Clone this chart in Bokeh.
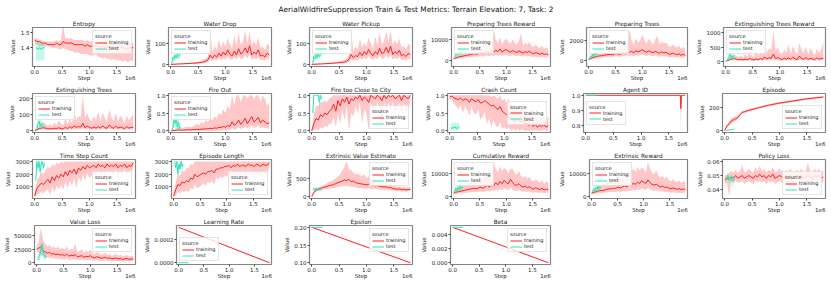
from bokeh.plotting import figure
from bokeh.models import Legend, LegendItem, FixedTicker, Range1d, PrintfTickFormatter, LinearAxis
from bokeh.layouts import column, row
from bokeh.embed import file_html
from bokeh.resources import INLINE
from bokeh.core.properties import value

SUPTITLE = "AerialWildfireSuppression Train & Test Metrics: Terrain Elevation: 7, Task: 2"

# ---------------- data (x in units of 1e6 steps) ----------------
STEPS = [0.0, 0.04, 0.08, 0.12, 0.16, 0.2, 0.24, 0.28, 0.32, 0.36,
         0.4, 0.44, 0.48, 0.52, 0.56, 0.6, 0.64, 0.68, 0.72, 0.76,
         0.8, 0.84, 0.88, 0.92, 0.96, 1.0, 1.04, 1.08, 1.12, 1.16,
         1.2, 1.24, 1.28, 1.32, 1.36, 1.4, 1.44, 1.48, 1.52, 1.56,
         1.6, 1.64, 1.68, 1.72, 1.76, 1.8]
TEST_STEPS = [0.02, 0.04, 0.06, 0.08, 0.1, 0.12, 0.14, 0.16, 0.18]
LINE_STEPS = [0.0, 1.8]
SHORT_TEST_STEPS = [0.0, 0.2]
AGENT_STEPS = [0.0, 1.71, 1.72, 1.73, 1.8]

ENTROPY = [1.45, 1.44, 1.44, 1.43, 1.43, 1.43, 1.42, 1.42, 1.42, 1.42,
           1.43, 1.42, 1.42, 1.44, 1.43, 1.43, 1.43, 1.43, 1.42, 1.42,
           1.42, 1.42, 1.42, 1.41, 1.42, 1.41, 1.41, 1.41, 1.41, 1.41,
           1.40, 1.41, 1.40, 1.40, 1.41, 1.40, 1.40, 1.40, 1.40, 1.40,
           1.40, 1.40, 1.39, 1.40, 1.40, 1.40]
ENTROPY_LO = [1.43, 1.42, 1.41, 1.41, 1.41, 1.41, 1.41, 1.41, 1.40, 1.40,
              1.40, 1.39, 1.39, 1.40, 1.39, 1.39, 1.38, 1.38, 1.37, 1.37,
              1.37, 1.36, 1.36, 1.36, 1.36, 1.35, 1.35, 1.35, 1.36, 1.34,
              1.34, 1.33, 1.34, 1.33, 1.33, 1.32, 1.33, 1.32, 1.32, 1.32,
              1.31, 1.32, 1.31, 1.31, 1.32, 1.31]
ENTROPY_HI = [1.46, 1.46, 1.45, 1.45, 1.44, 1.44, 1.44, 1.44, 1.44, 1.44,
              1.45, 1.44, 1.45, 1.55, 1.46, 1.46, 1.46, 1.46, 1.45, 1.45,
              1.45, 1.45, 1.45, 1.44, 1.45, 1.44, 1.44, 1.44, 1.45, 1.44,
              1.44, 1.44, 1.44, 1.44, 1.44, 1.43, 1.44, 1.43, 1.44, 1.43,
              1.43, 1.43, 1.43, 1.43, 1.44, 1.43]
ENTROPY_T = [1.40, 1.40, 1.39, 1.40, 1.40, 1.39, 1.40, 1.40, 1.40]
ENTROPY_T_LO = [1.33, 1.31, 1.32, 1.31, 1.32, 1.32, 1.31, 1.33, 1.32]
ENTROPY_T_HI = [1.44, 1.45, 1.43, 1.44, 1.45, 1.44, 1.43, 1.44, 1.44]

WDROP = [0, 1, 1, 2, 2, 3, 3, 4, 4, 5,
         6, 6, 7, 8, 10, 12, 15, 22, 45, 30,
         45, 35, 55, 40, 60, 45, 70, 50, 40, 65,
         45, 75, 50, 60, 80, 55, 90, 45, 60, 50,
         70, 40, 45, 35, 55, 45]
WDROP_LO = [0, 0, 0, 0, 1, 1, 1, 2, 2, 2,
            3, 3, 3, 4, 5, 6, 8, 12, 25, 15,
            25, 18, 30, 20, 30, 22, 38, 25, 20, 35,
            22, 40, 25, 30, 45, 28, 50, 22, 30, 25,
            35, 20, 22, 18, 28, 22]
WDROP_HI = [2, 3, 3, 4, 4, 5, 6, 7, 7, 8,
            10, 10, 12, 14, 18, 22, 28, 40, 170, 60,
            90, 70, 120, 80, 110, 85, 130, 95, 75, 140,
            90, 150, 95, 110, 165, 100, 160, 90, 115, 95,
            130, 80, 85, 70, 100, 90]
WDROP_T = [5, 35, 25, 45, 30, 50, 35, 45, 55]
WDROP_T_LO = [0, 15, 10, 25, 15, 30, 20, 30, 35]
WDROP_T_HI = [15, 55, 40, 60, 45, 65, 50, 60, 70]

WPICK = [0, 1, 1, 2, 2, 3, 3, 4, 5, 5,
         6, 7, 8, 9, 10, 12, 16, 24, 48, 32,
         42, 38, 58, 42, 62, 48, 72, 52, 42, 62,
         48, 78, 52, 58, 82, 55, 88, 48, 62, 52,
         68, 42, 48, 38, 52, 48]
WPICK_LO = [0, 0, 0, 1, 1, 1, 2, 2, 2, 3,
            3, 4, 4, 5, 5, 6, 8, 13, 26, 16,
            22, 20, 32, 22, 32, 25, 40, 27, 22, 34,
            24, 42, 27, 30, 46, 28, 48, 24, 32, 26,
            36, 21, 24, 19, 27, 24]
WPICK_HI = [2, 3, 3, 4, 5, 5, 6, 7, 8, 9,
            10, 11, 13, 15, 18, 22, 30, 42, 165, 62,
            88, 72, 125, 82, 105, 88, 128, 98, 78, 135,
            92, 155, 98, 112, 160, 102, 165, 92, 118, 98,
            125, 82, 88, 72, 98, 92]
WPICK_T = [5, 38, 28, 48, 32, 52, 38, 48, 58]
WPICK_T_LO = [0, 18, 12, 28, 15, 32, 22, 30, 38]
WPICK_T_HI = [15, 58, 42, 62, 48, 68, 52, 62, 72]

PTR = [800, 1200, 1500, 1800, 2000, 2200, 2400, 2600, 2800, 3000,
       3200, 3000, 3400, 3600, 3200, 3800, 4200, 3600, 4500, 3800,
       5000, 4200, 5500, 4000, 4800, 5200, 4500, 4000, 4800, 4200,
       3800, 4600, 4000, 3500, 4200, 3800, 4500, 3600, 3200, 3800,
       3400, 3000, 3500, 2800, 3200, 2600]
PTR_LO = [300, 600, 800, 1000, 1200, 1400, 1500, 1600, 1700, 1800,
          2000, 1800, 2000, 2100, 1800, 2200, 2400, 2000, 2500, 2000,
          2800, 2200, 3000, 2200, 2600, 2800, 2400, 2100, 2600, 2200,
          2000, 2400, 2100, 1800, 2200, 2000, 2300, 1800, 1600, 1900,
          1700, 1500, 1800, 1400, 1600, 1300]
PTR_HI = [1500, 2000, 2500, 3000, 3200, 3500, 4000, 4500, 5000, 5500,
          6000, 5500, 6500, 7000, 6000, 7500, 9000, 7000, 9500, 15000,
          10000, 8500, 11000, 8000, 9500, 10500, 9000, 8000, 10000, 8500,
          7500, 9500, 13000, 7000, 8500, 7500, 9000, 7000, 6500, 7500,
          6500, 6000, 7000, 5500, 6500, 5000]
PTR_T = [1500, 3000, 2500, 4000, 3000, 5500, 3500, 4500, 4000]
PTR_T_LO = [500, 1500, 1200, 2000, 1500, 2500, 1800, 2500, 2200]
PTR_T_HI = [2500, 4500, 3800, 6000, 4500, 7500, 5000, 6500, 6000]

PT = [150, 250, 350, 400, 450, 500, 520, 550, 600, 620,
      650, 600, 700, 750, 650, 700, 800, 700, 900, 850,
      950, 800, 1000, 900, 1000, 1100, 950, 850, 1000, 900,
      800, 950, 850, 750, 900, 800, 850, 700, 650, 750,
      700, 600, 700, 550, 650, 550]
PT_LO = [50, 100, 150, 200, 250, 300, 320, 350, 380, 400,
         420, 380, 450, 480, 400, 450, 500, 430, 550, 500,
         550, 450, 600, 520, 580, 650, 550, 480, 580, 520,
         450, 550, 480, 420, 520, 450, 480, 380, 350, 420,
         380, 330, 400, 300, 360, 300]
PT_HI = [300, 450, 600, 650, 700, 750, 800, 850, 950, 1000,
         1100, 1000, 1200, 1300, 1100, 1200, 1500, 1300, 1800, 3000,
         2000, 1600, 2200, 1800, 2000, 2600, 2000, 1700, 2200, 1900,
         1600, 2100, 2500, 1600, 1900, 1700, 1800, 1500, 1400, 1600,
         1500, 1300, 1500, 1200, 1400, 1200]
PT_T = [200, 500, 400, 700, 500, 900, 600, 800, 700]
PT_T_LO = [50, 250, 200, 400, 250, 500, 350, 450, 400]
PT_T_HI = [400, 800, 650, 1100, 800, 1300, 900, 1200, 1000]

ETR = [0, 20, 60, 80, 100, 70, 50, 60, 40, 70,
       50, 90, 60, 40, 80, 50, 100, 60, 150, 80,
       120, 100, 250, 90, 130, 80, 60, 100, 70, 120,
       60, 140, 80, 60, 180, 90, 70, 130, 60, 100,
       80, 50, 120, 70, 90, 100]
ETR_LO = [0, 5, 20, 30, 40, 25, 15, 20, 10, 25,
          15, 30, 20, 10, 25, 15, 35, 20, 50, 25,
          40, 30, 80, 30, 40, 25, 20, 30, 20, 40,
          20, 45, 25, 20, 60, 30, 20, 40, 20, 30,
          25, 15, 40, 20, 30, 30]
ETR_HI = [0, 60, 150, 200, 250, 180, 150, 200, 120, 250,
          150, 300, 200, 150, 400, 180, 350, 200, 600, 300,
          450, 400, 1100, 350, 500, 300, 250, 400, 300, 600,
          250, 550, 350, 250, 650, 400, 300, 500, 250, 450,
          350, 200, 450, 300, 400, 700]
ETR_T = [0, 80, 150, 250, 120, 200, 100, 80, 60]
ETR_T_LO = [0, 20, 50, 100, 40, 80, 30, 20, 20]
ETR_T_HI = [50, 200, 300, 350, 250, 300, 200, 180, 150]

ET = [0, 5, 12, 15, 20, 15, 10, 12, 10, 15,
      12, 18, 12, 10, 20, 12, 25, 15, 30, 20,
      25, 22, 45, 18, 28, 20, 15, 22, 15, 25,
      15, 30, 18, 15, 35, 20, 15, 28, 15, 22,
      18, 12, 25, 15, 20, 20]
ET_LO = [0, 1, 4, 5, 6, 5, 3, 4, 3, 5,
         4, 6, 4, 3, 6, 4, 8, 5, 10, 6,
         8, 7, 15, 6, 9, 6, 5, 7, 5, 8,
         5, 10, 6, 5, 11, 6, 5, 9, 5, 7,
         6, 4, 8, 5, 6, 6]
ET_HI = [0, 15, 35, 45, 55, 40, 30, 40, 25, 50,
         30, 65, 45, 30, 80, 40, 75, 45, 120, 65,
         90, 85, 220, 80, 110, 70, 55, 90, 65, 120,
         55, 115, 75, 55, 130, 85, 60, 110, 55, 95,
         75, 45, 95, 60, 85, 100]
ET_T = [0, 20, 40, 60, 30, 45, 25, 15, 10]
ET_T_LO = [0, 5, 15, 25, 10, 15, 8, 5, 3]
ET_T_HI = [10, 45, 70, 90, 60, 75, 50, 40, 30]

FOUT = [0, 0, 0.01, 0.02, 0.02, 0.01, 0.02, 0.02, 0.03, 0.02,
        0.03, 0.03, 0.04, 0.03, 0.05, 0.04, 0.06, 0.05, 0.07, 0.06,
        0.08, 0.07, 0.1, 0.09, 0.12, 0.1, 0.15, 0.12, 0.25, 0.15,
        0.2, 0.3, 0.18, 0.25, 0.35, 0.2, 0.3, 0.4, 0.25, 0.3,
        0.38, 0.22, 0.3, 0.25, 0.2, 0.22]
FOUT_LO = [0, 0, 0, 0, 0, 0, 0, 0, 0, 0,
           0, 0, 0, 0, 0, 0, 0, 0, 0, 0,
           0, 0, 0, 0, 0.02, 0, 0.03, 0.02, 0.08, 0.03,
           0.05, 0.1, 0.05, 0.08, 0.12, 0.06, 0.1, 0.15, 0.08, 0.1,
           0.14, 0.07, 0.1, 0.08, 0.06, 0.07]
FOUT_HI = [0, 0.02, 0.05, 0.08, 0.1, 0.06, 0.1, 0.1, 0.12, 0.1,
           0.12, 0.15, 0.2, 0.15, 0.25, 0.2, 0.3, 0.25, 0.35, 0.3,
           0.4, 0.35, 0.5, 0.45, 0.6, 0.5, 0.7, 0.6, 1.0, 0.7,
           1.0, 1.0, 0.8, 1.0, 1.0, 0.9, 1.0, 1.0, 0.9, 1.0,
           1.0, 0.8, 1.0, 0.9, 0.7, 0.8]
FOUT_T = [0, 0.1, 0.3, 0.2, 0.35, 0.1, 0.25, 0.05, 0.1]
FOUT_T_LO = [0, 0, 0.1, 0.05, 0.15, 0, 0.05, 0, 0]
FOUT_T_HI = [0.05, 0.3, 0.5, 0.4, 0.55, 0.3, 0.45, 0.2, 0.25]

FCLOSE = [0, 0.2, 0.35, 0.3, 0.45, 0.4, 0.5, 0.45, 0.55, 0.6,
          0.75, 0.55, 0.85, 0.7, 0.9, 0.8, 0.95, 0.75, 0.9, 0.85,
          0.95, 0.9, 1.0, 0.85, 0.95, 0.9, 0.8, 1.0, 0.95, 0.9,
          1.0, 0.95, 0.85, 1.0, 0.9, 1.0, 0.95, 1.0, 0.9, 0.95,
          1.0, 0.85, 1.0, 0.95, 0.9, 1.0]
FCLOSE_LO = [0, 0, 0.05, 0, 0.1, 0.05, 0.15, 0.1, 0.2, 0.2,
             0.4, 0.1, 0.5, 0.2, 0.6, 0.3, 0.7, 0, 0.5, 0.4,
             0.7, 0.5, 0.8, 0.2, 0.6, 0.5, 0, 0.8, 0.6, 0.5,
             0.8, 0.6, 0, 0.8, 0.5, 0.8, 0.6, 0.8, 0.5, 0.6,
             0.8, 0.3, 0.8, 0.6, 0.5, 0.8]
FCLOSE_HI = [0, 0.5, 0.7, 0.7, 0.8, 0.8, 0.85, 0.8, 0.9, 0.95,
             1, 1, 1, 1, 1, 1, 1, 1, 1, 1,
             1, 1, 1, 1, 1, 1, 1, 1, 1, 1,
             1, 1, 1, 1, 1, 1, 1, 1, 1, 1,
             1, 1, 1, 1, 1, 1]
FCLOSE_T = [0.5, 1.0, 1.0, 1.0, 1.0, 1.0, 0.8, 1.0, 0.9]
FCLOSE_T_LO = [0.3, 1.0, 1.0, 1.0, 1.0, 0.9, 0.5, 0.9, 0.7]
FCLOSE_T_HI = [0.7, 1.0, 1.0, 1.0, 1.0, 1.0, 1.0, 1.0, 1.0]

CRASH = [0.95, 0.98, 0.92, 0.9, 0.88, 0.92, 0.85, 0.9, 0.88, 0.8,
         0.9, 0.85, 0.82, 0.88, 0.78, 0.8, 0.85, 0.8, 0.75, 0.7,
         0.72, 0.65, 0.6, 0.68, 0.55, 0.5, 0.45, 0.4, 0.35, 0.3,
         0.28, 0.32, 0.25, 0.28, 0.2, 0.22, 0.15, 0.2, 0.12, 0.18,
         0.1, 0.15, 0.12, 0.18, 0.1, 0.15]
CRASH_LO = [0.85, 0.9, 0.75, 0.7, 0.6, 0.75, 0.5, 0.7, 0.6, 0.4,
            0.7, 0.5, 0.45, 0.6, 0.3, 0.4, 0.55, 0.2, 0.35, 0.1,
            0.3, 0.15, 0.1, 0.25, 0.05, 0.1, 0.05, 0.1, 0, 0.05,
            0, 0.05, 0, 0.05, 0, 0, 0, 0.02, 0, 0.02,
            0, 0, 0, 0.03, 0, 0]
CRASH_HI = [1, 1, 1, 1, 1, 1, 1, 1, 1, 1,
            1, 1, 1, 1, 1, 1, 1, 1, 1, 0.95,
            1, 0.95, 0.9, 1, 0.85, 0.9, 0.8, 0.9, 0.7, 0.75,
            0.65, 0.7, 0.6, 0.65, 0.5, 0.55, 0.4, 0.5, 0.35, 0.45,
            0.3, 0.4, 0.35, 0.45, 0.3, 0.4]
CRASH_T = [0.1, 0.05, 0.1, 0.08, 0.12, 0.05, 0.1, 0.08, 0.1]
CRASH_T_LO = [0, 0, 0, 0, 0, 0, 0, 0, 0]
CRASH_T_HI = [0.25, 0.2, 0.25, 0.22, 0.25, 0.2, 0.25, 0.2, 0.22]

AGENT = [1.0, 1.0, 0.91, 1.0, 1.0]
AGENT_LO = [1.0, 1.0, 0.73, 1.0, 1.0]
AGENT_HI = [1.0, 1.0, 1.0, 1.0, 1.0]
AGENT_T = [1.0, 1.0]

EPISODE = [0, 40, 60, 85, 95, 105, 115, 140, 160, 165,
           172, 178, 183, 188, 193, 198, 203, 208, 213, 218,
           222, 226, 230, 234, 238, 241, 244, 247, 250, 253,
           256, 259, 262, 265, 268, 271, 274, 277, 280, 282,
           284, 286, 288, 290, 292, 295]
EPISODE_LO = [0, 25, 40, 60, 75, 85, 95, 125, 148, 155,
              162, 168, 173, 178, 183, 188, 194, 199, 204, 209,
              213, 217, 221, 225, 229, 232, 235, 238, 241, 244,
              247, 250, 253, 256, 259, 262, 265, 268, 271, 273,
              275, 277, 279, 281, 283, 286]
EPISODE_HI = [0, 55, 80, 110, 115, 125, 135, 155, 172, 175,
              182, 188, 193, 198, 203, 208, 212, 217, 222, 227,
              231, 235, 239, 243, 247, 250, 253, 256, 259, 262,
              265, 268, 271, 274, 277, 280, 283, 286, 289, 291,
              293, 295, 297, 299, 301, 304]
EPISODE_T = [1, 3, 5, 7, 8, 10, 11, 12, 13]
EPISODE_T_LO = [0, 1, 3, 5, 6, 8, 9, 10, 11]
EPISODE_T_HI = [2, 5, 7, 9, 10, 12, 13, 14, 15]

TSC = [300, 900, 1100, 1300, 1200, 1400, 1600, 1300, 1800, 1500,
       1900, 1700, 2000, 1800, 2200, 1900, 2300, 2100, 2400, 2000,
       2500, 2300, 2600, 2400, 2700, 2500, 2600, 2700, 2500, 2800,
       2600, 2700, 2500, 2800, 2600, 2700, 2600, 2800, 2500, 2700,
       2600, 2800, 2500, 2700, 2600, 2900]
TSC_LO = [200, 400, 500, 600, 500, 700, 800, 400, 1000, 600,
          1100, 800, 1200, 800, 1400, 900, 1500, 1100, 1700, 900,
          1800, 1400, 2000, 1500, 2100, 1700, 1900, 2100, 1700, 2300,
          1900, 2100, 1800, 2300, 2000, 2200, 1900, 2400, 1800, 2200,
          2000, 2400, 1900, 2200, 2000, 2600]
TSC_HI = [500, 1500, 1800, 2200, 2000, 2300, 2600, 2400, 2800, 2600,
          2900, 2800, 3000, 2900, 3000, 3000, 3000, 3000, 3000, 3000,
          3000, 3000, 3000, 3000, 3000, 3000, 3000, 3000, 3000, 3000,
          3000, 3000, 3000, 3000, 3000, 3000, 3000, 3000, 3000, 3000,
          3000, 3000, 3000, 3000, 3000, 3000]
TSC_T = [1500, 3000, 2500, 3000, 2200, 2800, 3000, 2500, 2900]
TSC_T_LO = [1400, 2800, 2000, 2800, 1800, 2500, 2800, 2200, 2700]
TSC_T_HI = [1700, 3000, 2800, 3000, 2600, 3000, 3000, 2800, 3000]

ELEN = [300, 800, 1200, 1100, 1400, 1300, 1500, 1400, 1700, 1600,
        2000, 1800, 1900, 2000, 2100, 2000, 2200, 2200, 2300, 2100,
        2400, 2400, 2500, 2500, 2600, 2600, 2700, 2500, 2700, 2600,
        2800, 2600, 2700, 2700, 2600, 2800, 2700, 2700, 2600, 2800,
        2700, 2600, 2800, 2700, 2700, 2900]
ELEN_LO = [200, 350, 600, 500, 700, 600, 700, 600, 900, 800,
           1200, 900, 1000, 1100, 1300, 1100, 1400, 1300, 1500, 1200,
           1700, 1600, 1800, 1700, 1900, 1800, 2000, 1700, 2000, 1800,
           2100, 1800, 2000, 2000, 1800, 2200, 2000, 2000, 1900, 2200,
           2000, 1900, 2200, 2000, 2000, 2600]
ELEN_HI = [500, 1400, 2000, 1900, 2300, 2200, 2500, 2500, 2800, 2700,
           3000, 3000, 3000, 3000, 3000, 3000, 3000, 3000, 3000, 3000,
           3000, 3000, 3000, 3000, 3000, 3000, 3000, 3000, 3000, 3000,
           3000, 3000, 3000, 3000, 3000, 3000, 3000, 3000, 3000, 3000,
           3000, 3000, 3000, 3000, 3000, 3000]
ELEN_T = [3000, 2500, 3000, 2000, 2800, 2400, 3000, 2600, 2800]
ELEN_T_LO = [2800, 2200, 2800, 1700, 2500, 2000, 2700, 2300, 2500]
ELEN_T_HI = [3000, 2800, 3000, 2400, 3000, 2700, 3000, 2900, 3000]

EVE = [0, 120, 170, 200, 220, 240, 260, 280, 300, 310,
       330, 350, 380, 400, 420, 450, 430, 470, 400, 420,
       380, 360, 350, 340, 330, 320, 330, 300, 310, 290,
       300, 280, 270, 260, 270, 240, 250, 220, 210, 200,
       210, 190, 200, 180, 190, 200]
EVE_LO = [0, 80, 130, 160, 180, 190, 200, 210, 220, 230,
          240, 250, 260, 270, 280, 290, 280, 290, 270, 270,
          250, 240, 230, 230, 220, 220, 220, 210, 210, 200,
          200, 190, 190, 180, 180, 170, 170, 160, 160, 150,
          160, 150, 150, 140, 150, 160]
EVE_HI = [0, 160, 220, 250, 280, 300, 330, 360, 400, 420,
          450, 500, 550, 600, 700, 800, 950, 750, 700, 650,
          600, 620, 580, 550, 600, 500, 550, 480, 520, 450,
          480, 420, 400, 380, 400, 350, 330, 300, 290, 270,
          280, 260, 270, 250, 260, 250]
EVE_T = [200, 220, 180, 230, 200, 210, 190, 200, 210]
EVE_T_LO = [150, 160, 130, 170, 150, 160, 140, 150, 160]
EVE_T_HI = [250, 270, 230, 280, 250, 260, 240, 250, 260]

CUMR = [1500, 1800, 2000, 2200, 2400, 2600, 2800, 3000, 3200, 3400,
        3500, 3300, 3800, 4000, 3500, 4200, 4800, 4000, 5200, 4500,
        6000, 5000, 6500, 5500, 7000, 6000, 5500, 7500, 6000, 5000,
        4800, 5500, 4500, 4000, 4500, 3800, 4200, 3500, 3200, 3800,
        3300, 3000, 3500, 2800, 3200, 3000]
CUMR_LO = [800, 1000, 1200, 1300, 1400, 1500, 1600, 1700, 1800, 1900,
           2000, 1800, 2000, 2100, 1800, 2200, 2500, 2000, 2700, 2200,
           3000, 2500, 3200, 2700, 3500, 3000, 2700, 3800, 3000, 2500,
           2400, 2800, 2200, 2000, 2200, 1900, 2100, 1700, 1600, 1900,
           1600, 1500, 1700, 1400, 1600, 1500]
CUMR_HI = [2500, 3000, 3500, 4000, 4500, 5000, 5500, 6000, 6500, 7000,
           7500, 7000, 8000, 8500, 7500, 9000, 10000, 9000, 11000, 15000,
           12000, 10500, 13000, 11000, 12500, 11500, 10000, 12000, 12000, 10000,
           9500, 11000, 9000, 8000, 9000, 7500, 8500, 7000, 6500, 7500,
           6500, 6000, 7000, 5500, 6500, 6000]
CUMR_T = [2000, 3500, 2500, 4000, 3000, 4500, 3500, 4000, 3800]
CUMR_T_LO = [1000, 2000, 1500, 2500, 1800, 3000, 2200, 2500, 2500]
CUMR_T_HI = [3000, 5000, 4000, 5500, 4500, 6000, 5000, 5500, 5200]

EXTR = [1500, 1700, 2000, 2300, 2500, 2600, 2700, 3000, 3300, 3200,
        3500, 3400, 3700, 4000, 3600, 4300, 4600, 4100, 5000, 4700,
        5800, 5200, 6200, 5600, 6800, 6200, 5600, 7200, 6100, 5200,
        4900, 5300, 4700, 4100, 4400, 3900, 4100, 3600, 3300, 3700,
        3400, 3100, 3400, 2900, 3300, 3000]
EXTR_LO = [800, 1000, 1200, 1300, 1500, 1500, 1600, 1700, 1900, 1800,
           2000, 1900, 2000, 2200, 1900, 2300, 2400, 2100, 2600, 2300,
           2900, 2600, 3100, 2800, 3400, 3100, 2800, 3600, 3000, 2600,
           2400, 2700, 2300, 2100, 2200, 1900, 2000, 1800, 1600, 1800,
           1700, 1500, 1700, 1400, 1600, 1500]
EXTR_HI = [2600, 3100, 3600, 4200, 4600, 5100, 5400, 6100, 6600, 7100,
           7600, 7200, 8100, 8600, 7600, 9100, 10200, 9100, 11000, 10200,
           12200, 10600, 12800, 11200, 12600, 11800, 10200, 14800, 12200, 10200,
           9600, 11200, 9100, 8100, 9100, 7600, 8600, 7100, 6600, 7600,
           6600, 6100, 7100, 5600, 6600, 6100]
EXTR_T = [2000, 3300, 2600, 3900, 3100, 4400, 3400, 4100, 3700]
EXTR_T_LO = [1000, 2000, 1500, 2400, 1800, 2900, 2100, 2500, 2400]
EXTR_T_HI = [3000, 4800, 4000, 5400, 4400, 6000, 4900, 5600, 5100]

PLOSS = [0.047, 0.048, 0.047, 0.049, 0.048, 0.050, 0.048, 0.049, 0.050, 0.048,
         0.049, 0.050, 0.049, 0.048, 0.050, 0.049, 0.051, 0.049, 0.050, 0.048,
         0.050, 0.049, 0.051, 0.048, 0.049, 0.050, 0.049, 0.048, 0.050, 0.049,
         0.050, 0.048, 0.049, 0.050, 0.049, 0.050, 0.048, 0.049, 0.050, 0.049,
         0.048, 0.050, 0.049, 0.050, 0.048, 0.049]
PLOSS_LO = [0.044, 0.045, 0.035, 0.046, 0.045, 0.046, 0.045, 0.045, 0.046, 0.044,
            0.045, 0.046, 0.045, 0.044, 0.046, 0.045, 0.046, 0.045, 0.046, 0.044,
            0.046, 0.045, 0.046, 0.044, 0.045, 0.046, 0.045, 0.044, 0.045, 0.045,
            0.046, 0.044, 0.045, 0.046, 0.045, 0.045, 0.044, 0.045, 0.046, 0.045,
            0.044, 0.046, 0.045, 0.046, 0.044, 0.045]
PLOSS_HI = [0.050, 0.051, 0.052, 0.053, 0.052, 0.054, 0.052, 0.053, 0.058, 0.052,
            0.053, 0.055, 0.053, 0.052, 0.056, 0.053, 0.057, 0.053, 0.055, 0.052,
            0.054, 0.053, 0.056, 0.052, 0.053, 0.055, 0.053, 0.052, 0.054, 0.053,
            0.055, 0.052, 0.053, 0.054, 0.053, 0.055, 0.052, 0.053, 0.059, 0.053,
            0.052, 0.055, 0.053, 0.055, 0.052, 0.054]
PLOSS_T = [0.047, 0.048, 0.050, 0.047, 0.049, 0.048, 0.046, 0.048, 0.047]
PLOSS_T_LO = [0.045, 0.046, 0.047, 0.044, 0.046, 0.045, 0.040, 0.045, 0.044]
PLOSS_T_HI = [0.049, 0.050, 0.052, 0.049, 0.051, 0.050, 0.049, 0.050, 0.049]

VLOSS = [25000, 27000, 30000, 22000, 20000, 18000, 19000, 16000, 17000, 15000,
         16000, 14000, 15000, 13000, 16000, 12000, 14000, 13000, 15000, 11000,
         12000, 13000, 10000, 12000, 11000, 13000, 10000, 9000, 11000, 10000,
         8000, 9000, 10000, 8000, 9000, 7000, 8000, 9000, 7000, 8000,
         6000, 7000, 8000, 6000, 7000, 7000]
VLOSS_LO = [20000, 18000, 15000, 12000, 10000, 9000, 10000, 8000, 9000, 7000,
            8000, 6000, 7000, 6000, 8000, 5000, 6000, 6000, 7000, 5000,
            5000, 6000, 4000, 5000, 5000, 6000, 4000, 3500, 5000, 4000,
            3000, 3500, 4000, 3000, 3500, 2500, 3000, 3500, 2500, 3000,
            2000, 2500, 3000, 2000, 2500, 2500]
VLOSS_HI = [30000, 40000, 65000, 40000, 35000, 30000, 33000, 28000, 30000, 26000,
            30000, 25000, 28000, 24000, 30000, 22000, 26000, 24000, 35000, 20000,
            22000, 25000, 18000, 22000, 20000, 24000, 18000, 16000, 20000, 18000,
            15000, 16000, 18000, 15000, 16000, 13000, 15000, 16000, 13000, 15000,
            12000, 13000, 15000, 11000, 13000, 12000]
VLOSS_T = [5000, 10000, 15000, 25000, 35000, 20000, 15000, 10000, 12000]
VLOSS_T_LO = [2000, 4000, 6000, 10000, 15000, 8000, 6000, 4000, 5000]
VLOSS_T_HI = [10000, 20000, 30000, 35000, 38000, 30000, 25000, 18000, 20000]

LRATE = [0.0003, 0.0]
LRATE_T = [0.0, 0.0]
EPSILON = [0.2, 0.1]
EPSILON_T = [0.2, 0.2]
BETA = [0.005, 0.0]
BETA_T = [0.005, 0.005]

X_TICKS = [0.0, 0.5, 1.0, 1.5]

# ---------------- panel configuration ----------------
P = [
    ("Entropy", STEPS, ENTROPY, ENTROPY_LO, ENTROPY_HI, TEST_STEPS, ENTROPY_T, ENTROPY_T_LO, ENTROPY_T_HI, (1.28, 1.53), [1.4, 1.5], "%.1f", "top_right"),
    ("Water Drop", STEPS, WDROP, WDROP_LO, WDROP_HI, TEST_STEPS, WDROP_T, WDROP_T_LO, WDROP_T_HI, (-10, 178), [0, 100], "%d", "top_left"),
    ("Water Pickup", STEPS, WPICK, WPICK_LO, WPICK_HI, TEST_STEPS, WPICK_T, WPICK_T_LO, WPICK_T_HI, (-10, 178), [0, 100], "%d", "top_left"),
    ("Preparing Trees Reward", STEPS, PTR, PTR_LO, PTR_HI, TEST_STEPS, PTR_T, PTR_T_LO, PTR_T_HI, (-2900, 15800), [0, 10000], "%d", "top_left"),
    ("Preparing Trees", STEPS, PT, PT_LO, PT_HI, TEST_STEPS, PT_T, PT_T_LO, PT_T_HI, (-540, 3280), [0, 2000], "%d", "top_left"),
    ("Extinguishing Trees Reward", STEPS, ETR, ETR_LO, ETR_HI, TEST_STEPS, ETR_T, ETR_T_LO, ETR_T_HI, (-190, 1195), [0, 500, 1000], "%d", "top_left"),
    ("Extinguishing Trees", STEPS, ET, ET_LO, ET_HI, TEST_STEPS, ET_T, ET_T_LO, ET_T_HI, (-12, 232), [0, 100, 200], "%d", "top_left"),
    ("Fire Out", STEPS, FOUT, FOUT_LO, FOUT_HI, TEST_STEPS, FOUT_T, FOUT_T_LO, FOUT_T_HI, (-0.05, 1.05), [0.0, 0.5, 1.0], "%.1f", "top_left"),
    ("Fire too Close to City", STEPS, FCLOSE, FCLOSE_LO, FCLOSE_HI, TEST_STEPS, FCLOSE_T, FCLOSE_T_LO, FCLOSE_T_HI, (-0.05, 1.05), [0.0, 0.5, 1.0], "%.1f", "bottom_right"),
    ("Crash Count", STEPS, CRASH, CRASH_LO, CRASH_HI, TEST_STEPS, CRASH_T, CRASH_T_LO, CRASH_T_HI, (-0.05, 1.05), [0.0, 0.5, 1.0], "%.1f", "right"),
    ("Agent ID", AGENT_STEPS, AGENT, AGENT_LO, AGENT_HI, SHORT_TEST_STEPS, AGENT_T, None, None, (0.75, 1.012), [0.8, 0.9, 1.0], "%.1f", "left"),
    ("Episode", STEPS, EPISODE, EPISODE_LO, EPISODE_HI, TEST_STEPS, EPISODE_T, EPISODE_T_LO, EPISODE_T_HI, (-16, 325), [0, 200], "%d", "bottom_right"),
    ("Time Step Count", STEPS, TSC, TSC_LO, TSC_HI, TEST_STEPS, TSC_T, TSC_T_LO, TSC_T_HI, (100, 3150), [1000, 2000, 3000], "%d", "bottom_right"),
    ("Episode Length", STEPS, ELEN, ELEN_LO, ELEN_HI, TEST_STEPS, ELEN_T, ELEN_T_LO, ELEN_T_HI, (100, 3150), [1000, 2000, 3000], "%d", "bottom_right"),
    ("Extrinsic Value Estimate", STEPS, EVE, EVE_LO, EVE_HI, TEST_STEPS, EVE_T, EVE_T_LO, EVE_T_HI, (-47, 997), [0, 500], "%d", "top_right"),
    ("Cumulative Reward", STEPS, CUMR, CUMR_LO, CUMR_HI, TEST_STEPS, CUMR_T, CUMR_T_LO, CUMR_T_HI, (-900, 16000), [0, 10000], "%d", "top_left"),
    ("Extrinsic Reward", STEPS, EXTR, EXTR_LO, EXTR_HI, TEST_STEPS, EXTR_T, EXTR_T_LO, EXTR_T_HI, (-900, 16000), [0, 10000], "%d", "top_left"),
    ("Policy Loss", STEPS, PLOSS, PLOSS_LO, PLOSS_HI, TEST_STEPS, PLOSS_T, PLOSS_T_LO, PLOSS_T_HI, (0.0335, 0.0615), [0.04, 0.05, 0.06], "%.2f", "bottom_right"),
    ("Value Loss", STEPS, VLOSS, VLOSS_LO, VLOSS_HI, TEST_STEPS, VLOSS_T, VLOSS_T_LO, VLOSS_T_HI, (-3300, 69000), [0, 25000, 50000], "%d", "top_right"),
    ("Learning Rate", LINE_STEPS, LRATE, None, None, SHORT_TEST_STEPS, LRATE_T, None, None, (-0.000015, 0.000315), [0.0, 0.0002], "%.4f", "bottom_left"),
    ("Epsilon", LINE_STEPS, EPSILON, None, None, SHORT_TEST_STEPS, EPSILON_T, None, None, (0.095, 0.205), [0.10, 0.15, 0.20], "%.2f", "top_right"),
    ("Beta", LINE_STEPS, BETA, None, None, SHORT_TEST_STEPS, BETA_T, None, None, (-0.00025, 0.00525), [0.0, 0.002, 0.004], "%.3f", "top_right"),
]

RED = "#ff1f1f"
CYAN = "#2ee6b6"
TXT = "#222222"
FONT = "DejaVu Sans"
TICK_FS = "5.5px"
COL_W = [140, 139, 138, 138, 137, 139]
COL_LB = [32, 28, 30, 30, 28, 30]
COL_RB = [5, 8, 5, 5, 5, 6]
HEAD_H = 17
ROW_H = 66
X_RANGE = (-0.04, 1.84)
STEP_POS = 0.9       # centre of the x range, where "Step" sits
OFFSET_POS = 1.745   # where the "1e6" offset text sits


def trim(*arrs):
    n = min(len(a) for a in arrs)
    return [list(a)[:n] for a in arrs]


def style_axis(ax):
    ax.axis_line_color = None
    ax.major_tick_out = 2
    ax.major_tick_in = 0
    ax.minor_tick_out = 0
    ax.minor_tick_in = 0
    ax.major_tick_line_color = "#444444"
    ax.major_label_text_font = FONT
    ax.major_label_text_font_size = TICK_FS
    ax.major_label_text_color = TXT
    ax.major_label_standoff = 1


def text_axis(ax):
    # an axis used only to carry text ("Step", "1e6", "Value")
    ax.axis_line_color = None
    ax.major_tick_line_color = None
    ax.minor_tick_line_color = None
    ax.major_tick_out = 0
    ax.major_tick_in = 0
    ax.minor_tick_out = 0
    ax.minor_tick_in = 0
    ax.major_label_text_font = FONT
    ax.major_label_text_font_size = TICK_FS
    ax.major_label_text_color = TXT


def make_panel(cfg, col):
    (title, x, y, lo, hi, tx, ty, tlo, thi, yr, yt, fmt, loc) = cfg
    p = figure(width=COL_W[col], height=ROW_H, x_range=Range1d(*X_RANGE), y_range=Range1d(*yr),
               toolbar_location=None, output_backend="svg",
               min_border_left=COL_LB[col], min_border_right=COL_RB[col],
               min_border_top=10, min_border_bottom=14)
    p.title.text = title
    p.title.align = "center"
    p.title.text_font = FONT
    p.title.text_font_size = "5.8px"
    p.title.text_font_style = "normal"
    p.title.text_color = TXT
    p.title.standoff = 2
    p.title.offset = 0
    p.grid.visible = False
    p.outline_line_color = "#858585"
    p.outline_line_width = 1.2

    style_axis(p.xaxis[0])
    style_axis(p.yaxis[0])
    p.xaxis[0].major_label_standoff = 0
    p.xaxis.ticker = FixedTicker(ticks=X_TICKS)
    p.xaxis.formatter = PrintfTickFormatter(format="%.1f")
    p.yaxis.ticker = FixedTicker(ticks=yt)
    p.yaxis.formatter = PrintfTickFormatter(format=fmt)

    # "Step" and the "1e6" offset on one row below the tick labels
    xa2 = LinearAxis(ticker=FixedTicker(ticks=[STEP_POS, OFFSET_POS]),
                     major_label_overrides={STEP_POS: "Step", OFFSET_POS: "1e6"})
    text_axis(xa2)
    xa2.major_label_standoff = -2
    p.add_layout(xa2, "below")

    # "Value" rotated, to the left of the tick labels
    ymid = (yr[0] + yr[1]) / 2.0
    ya2 = LinearAxis(ticker=FixedTicker(ticks=[ymid]), major_label_overrides={ymid: "Value"},
                     major_label_orientation="vertical")
    text_axis(ya2)
    ya2.major_label_standoff = 2
    p.add_layout(ya2, "left")

    if lo is not None:
        bx, blo, bhi = trim(x, lo, hi)
        p.varea(x=bx, y1=blo, y2=bhi, fill_color=RED, fill_alpha=0.25)
    lx, ly = trim(x, y)
    l1 = p.line(lx, ly, line_color=RED, line_width=1)
    if tlo is not None:
        tbx, tblo, tbhi = trim(tx, tlo, thi)
        p.varea(x=tbx, y1=tblo, y2=tbhi, fill_color=CYAN, fill_alpha=0.28)
    tlx, tly = trim(tx, ty)
    l2 = p.line(tlx, tly, line_color=CYAN, line_width=1)

    leg = Legend(items=[LegendItem(label="training", renderers=[l1]),
                        LegendItem(label="test", renderers=[l2])],
                 location=loc, title="source")
    leg.title_text_font = FONT
    leg.title_text_font_size = "5px"
    leg.title_text_font_style = "normal"
    leg.title_text_color = TXT
    leg.title_standoff = 0
    leg.label_text_font = FONT
    leg.label_text_font_size = "5px"
    leg.label_text_color = TXT
    leg.label_height = 5
    leg.glyph_height = 5
    leg.glyph_width = 12
    leg.label_standoff = 2
    leg.spacing = 0
    leg.padding = 2
    leg.margin = 3
    leg.border_line_color = "#cccccc"
    leg.border_line_width = 0.8
    leg.background_fill_alpha = 0.8
    p.add_layout(leg)
    return p


head = figure(width=831, height=HEAD_H, x_range=Range1d(0, 1), y_range=Range1d(0, 1),
              x_axis_location=None, y_axis_location=None, toolbar_location=None,
              output_backend="svg", min_border=0, outline_line_color=None)
head.grid.visible = False
head.text(x=[0.5], y=[0.45], text=[SUPTITLE], text_align="center", text_baseline="middle",
          text_font=value(FONT), text_font_size=value("7.4px"), text_color="#111111")

rows = []
for r in range(4):
    figs = [make_panel(P[i], i - r * 6) for i in range(r * 6, min(r * 6 + 6, len(P)))]
    rows.append(row(*figs))

layout = column(head, *rows)
open("out.html", "w").write(file_html(layout, INLINE))
